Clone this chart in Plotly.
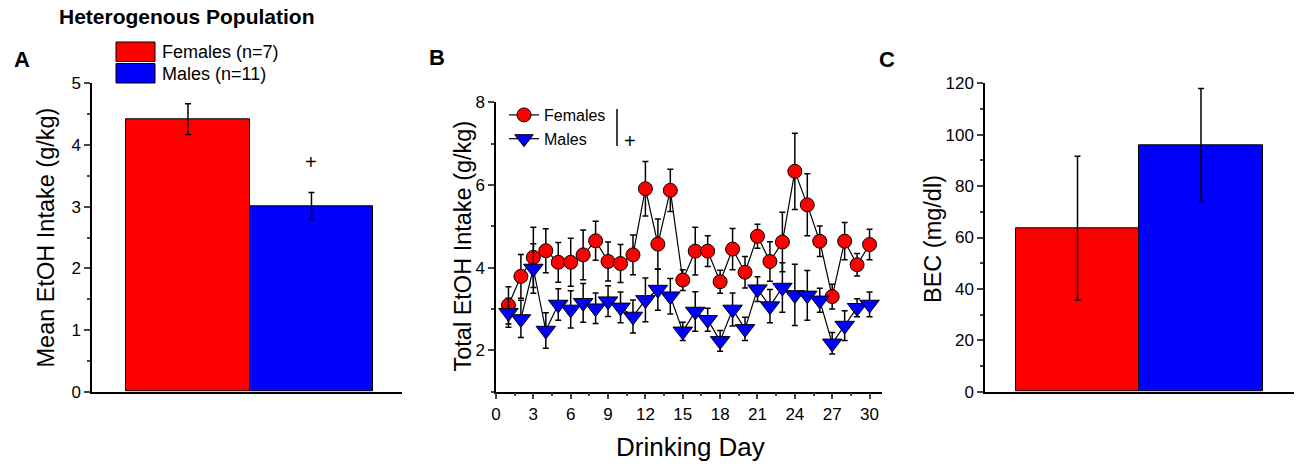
import plotly.graph_objects as go

W, H = 1300, 466

# panel A / C groups
groups = ["Females (n=7)", "Males (n=11)"]
bar_colors = ["#ff0000", "#0000ff"]

mean_intake = [4.42, 3.01]
mean_intake_sem = [0.25, 0.22]

bec = [63.6, 96.0]
bec_sem = [28.0, 22.0]

# panel B daily intake
days = list(range(1, 31))
fem_intake = [3.09, 3.79, 4.25, 4.41, 4.13, 4.13, 4.31, 4.65, 4.15, 4.10,
              4.31, 5.91, 4.57, 5.87, 3.70, 4.40, 4.40, 3.66, 4.45, 3.89,
              4.76, 4.15, 4.62, 6.33, 5.52, 4.64, 3.30, 4.64, 4.07, 4.56]
fem_sem = [0.45, 0.53, 0.73, 0.53, 0.48, 0.58, 0.60, 0.47, 0.47, 0.46,
           0.48, 0.66, 0.61, 0.51, 0.25, 0.58, 0.37, 0.28, 0.50, 0.38,
           0.29, 0.48, 0.72, 0.92, 0.75, 0.37, 0.30, 0.45, 0.27, 0.37]
male_intake = [2.91, 2.76, 3.98, 2.48, 3.11, 2.99, 3.15, 3.02, 3.19, 3.04,
               2.82, 3.22, 3.47, 3.31, 2.46, 2.94, 2.74, 2.23, 2.99, 2.52,
               3.48, 3.07, 3.52, 3.34, 3.33, 3.21, 2.17, 2.60, 3.03, 3.11]
male_sem = [0.35, 0.45, 0.60, 0.43, 0.38, 0.45, 0.47, 0.37, 0.37, 0.37,
            0.40, 0.53, 0.50, 0.43, 0.22, 0.48, 0.28, 0.25, 0.40, 0.28,
            0.30, 0.40, 0.60, 0.74, 0.60, 0.29, 0.26, 0.36, 0.22, 0.30]

FONT = "Liberation Sans, Arial, sans-serif"


def px(x):
    return x / W


def py_(y):
    return 1 - y / H


fig = go.Figure()

# A - mean intake bars
fig.add_trace(go.Bar(
    x=groups, y=mean_intake, width=1,
    marker=dict(color=bar_colors, line=dict(color="black", width=1)),
    error_y=dict(type="data", array=mean_intake_sem, color="black", thickness=1.5, width=3),
    xaxis="x", yaxis="y", showlegend=False))

# B - daily intake
fig.add_trace(go.Scatter(
    x=days, y=fem_intake, mode="lines+markers", name="Females",
    line=dict(color="black", width=1.2),
    marker=dict(symbol="circle", size=14, color="#ff0000", line=dict(color="black", width=1)),
    error_y=dict(type="data", array=fem_sem, color="black", thickness=1.5, width=3),
    xaxis="x2", yaxis="y2"))
fig.add_trace(go.Scatter(
    x=days, y=male_intake, mode="lines+markers", name="Males",
    line=dict(color="black", width=1.2),
    marker=dict(symbol="triangle-down", size=17, color="#0000ff", line=dict(color="black", width=1)),
    error_y=dict(type="data", array=male_sem, color="black", thickness=1.5, width=3),
    xaxis="x2", yaxis="y2"))

# C - BEC bars
fig.add_trace(go.Bar(
    x=groups, y=bec, width=1,
    marker=dict(color=bar_colors, line=dict(color="black", width=1)),
    error_y=dict(type="data", array=bec_sem, color="black", thickness=1.5, width=3),
    xaxis="x3", yaxis="y3", showlegend=False))

ax_common = dict(showline=True, linecolor="black", linewidth=1.5, showgrid=False,
                 zeroline=False, automargin=False,
                 tickfont=dict(family=FONT, size=17, color="black"))

ydom_ac = [py_(391.7), py_(83.3)]
ydom_b = [py_(391.7), py_(102.3)]

fig.update_layout(
    width=W, height=H,
    margin=dict(l=0, r=0, t=0, b=0),
    paper_bgcolor="white", plot_bgcolor="white",
    font=dict(family=FONT, color="black"),
    bargap=0,
    xaxis=dict(ax_common, domain=[px(92), px(402)], range=[-0.777, 1.733],
               showticklabels=False, ticks="", anchor="y"),
    yaxis=dict(ax_common, domain=ydom_ac, range=[0, 5], dtick=1, ticks="outside",
               ticklen=6, tickwidth=1.5, minor=dict(dtick=0.5, ticks="outside", ticklen=3),
               anchor="x"),
    xaxis2=dict(ax_common, domain=[px(496), px(882)], range=[0, 31], dtick=3, tick0=0,
                ticks="outside", ticklen=6, tickwidth=1.5,
                minor=dict(dtick=1.5, ticks="outside", ticklen=3), anchor="y2"),
    yaxis2=dict(ax_common, domain=ydom_b, range=[1, 8], dtick=2, tick0=0, ticks="outside",
                ticklen=6, tickwidth=1.5, minor=dict(dtick=1, ticks="outside", ticklen=3),
                anchor="x2"),
    xaxis3=dict(ax_common, domain=[px(985), px(1294)], range=[-0.749, 1.753],
                showticklabels=False, ticks="", anchor="y3"),
    yaxis3=dict(ax_common, domain=ydom_ac, range=[0, 120], dtick=20, ticks="outside",
                ticklen=6, tickwidth=1.5, minor=dict(dtick=10, ticks="outside", ticklen=3),
                anchor="x3"),
    legend=dict(x=px(504), y=py_(98), xanchor="left", yanchor="top",
                bgcolor="rgba(0,0,0,0)", font=dict(family=FONT, size=16, color="black"),
                itemwidth=30, tracegroupgap=0),
)

shapes = []
annots = []

# legend for panel A
for i, (g, c) in enumerate(zip(groups, bar_colors)):
    y0 = 42 + i * 21.5
    shapes.append(dict(type="rect", xref="paper", yref="paper",
                       x0=px(116), x1=px(155), y0=py_(y0), y1=py_(y0 + 19.5),
                       fillcolor=c, line=dict(color="black", width=1)))
    annots.append(dict(text=g, xref="paper", yref="paper", x=px(160), y=py_(y0 + 10),
                       xanchor="left", yanchor="middle", showarrow=False,
                       font=dict(family=FONT, size=18, color="black")))

# significance marks
shapes.append(dict(type="line", xref="paper", yref="paper",
                   x0=px(617), x1=px(617), y0=py_(109), y1=py_(146),
                   line=dict(color="black", width=1.5)))
annots.append(dict(text="+", xref="paper", yref="paper", x=px(630), y=py_(128),
                   showarrow=False, font=dict(family=FONT, size=20, color="black")))
annots.append(dict(text="+", x=groups[1], y=3.72, xref="x", yref="y",
                   showarrow=False, font=dict(family=FONT, size=20, color="black")))

# axis titles
for txt, xx, yy, ang, sz in [("Mean EtOH Intake (g/kg)", 45, 237.5, -90, 23.5),
                             ("Total EtOH Intake (g/kg)", 462, 246.5, -90, 23.5),
                             ("BEC (mg/dl)", 933, 239, -90, 23.5),
                             ("Drinking Day", 690, 447, 0, 26)]:
    annots.append(dict(text=txt, xref="paper", yref="paper", x=px(xx), y=py_(yy),
                       xanchor="center", yanchor="middle", textangle=ang, showarrow=False,
                       font=dict(family=FONT, size=sz, color="black")))

annots.append(dict(text="<b>Heterogenous Population</b>", xref="paper", yref="paper",
                   x=px(57), y=py_(16), xanchor="left", yanchor="middle", showarrow=False,
                   font=dict(family=FONT, size=21, color="black")))
for lbl, xx, yy in [("A", 22, 60), ("B", 437, 58), ("C", 887, 60)]:
    annots.append(dict(text="<b>%s</b>" % lbl, xref="paper", yref="paper",
                       x=px(xx), y=py_(yy), xanchor="center", yanchor="middle",
                       showarrow=False, font=dict(family=FONT, size=22, color="black")))

fig.update_layout(shapes=shapes, annotations=annots)

# the page's default body margin would push the figure off the 1300x466 window
fig.write_html("out.html", config={"displayModeBar": False},
               post_script="document.body.style.margin='0';document.body.style.overflow='hidden';")
